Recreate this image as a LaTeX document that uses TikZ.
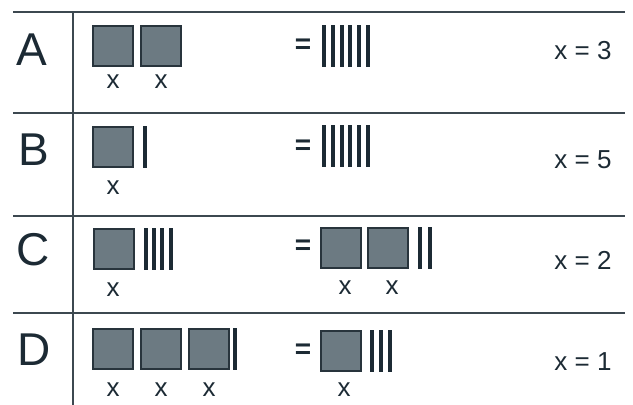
\documentclass[tikz,border=0pt]{standalone}
\usepackage{fontspec}
\setmainfont{Liberation Sans}
\usepackage{xcolor}
\usetikzlibrary{positioning}

\definecolor{ink}{RGB}{28,42,52}
\definecolor{rulec}{RGB}{60,72,80}
\definecolor{sqfill}{RGB}{108,122,130}
\definecolor{sqedge}{RGB}{40,52,60}

\tikzset{
  sq/.style={draw=sqedge,line width=1.4pt,fill=sqfill,minimum size=40,inner sep=0},
  bar/.style={fill=ink,minimum width=4,minimum height=42,inner sep=0},
  lbl/.style={text=ink,inner sep=0,font=\fontsize{26}{26}\selectfont},
  eqs/.style={text=ink,inner sep=0,font=\fontsize{28}{28}\selectfont\bfseries},
  rowname/.style={text=ink,inner sep=0,font=\fontsize{46}{46}\selectfont},
  rulel/.style={draw=rulec,line width=1.8pt}
}

\begin{document}
\begin{tikzpicture}[x=1pt,y=-1pt]
\useasboundingbox (0,0) rectangle (633,405);
% table rules
\foreach \y in {12,113,216,313}
  \draw[rulel] (13,\y) -- (625,\y);
\draw[rulel] (73,12) -- (73,405);
% row letters
\node[rowname] (A) at (32,50) {A};
\node[rowname] (B) at (34,150) {B};
\node[rowname] (C) at (33,250) {C};
\node[rowname] (D) at (34,350) {D};

% row A
\node[sq] (a1) at (113,46) {};
\node[sq] (a2) at (161,46) {};
\node[lbl] at (113,82) {x};
\node[lbl] at (161,82) {x};
\node[eqs] (eqa) at (303,46) {=};
\foreach \i in {0,...,5}
  \node[bar] at (324+8.8*\i,46) {};
\node[lbl] (sola) at (583,51) {x = 3};

% row B
\node[sq] (b1) at (113,147) {};
\node[bar] at (145,147) {};
\node[lbl] at (113,188) {x};
\node[eqs] (eqb) at (303,147) {=};
\foreach \i in {0,...,5}
  \node[bar] at (324+8.8*\i,146) {};
\node[lbl] (solb) at (583,160) {x = 5};

% row C
\node[sq] (c1) at (114,249) {};
\foreach \i in {0,...,3}
  \node[bar] at (145.5+8.4*\i,249) {};
\node[lbl] at (113,290) {x};
\node[eqs] (eqc) at (303,247) {=};
\node[sq] (c2) at (341,248) {};
\node[sq] (c3) at (388,248) {};
\foreach \i in {0,1}
  \node[bar] at (420+10*\i,248) {};
\node[lbl] at (345,288) {x};
\node[lbl] at (392,288) {x};
\node[lbl] (solc) at (583,260) {x = 2};

% row D
\node[sq] (d1) at (113,349) {};
\node[sq] (d2) at (161,349) {};
\node[sq] (d3) at (209,349) {};
\node[bar] at (235,349) {};
\node[lbl] at (113,390) {x};
\node[lbl] at (161,390) {x};
\node[lbl] at (209,390) {x};
\node[eqs] (eqd) at (303,351) {=};
\node[sq] (d4) at (341,351) {};
\foreach \i in {0,1,2}
  \node[bar] at (372+9*\i,351) {};
\node[lbl] at (344,390) {x};
\node[lbl] (sold) at (583,362) {x = 1};
\end{tikzpicture}
\end{document}
